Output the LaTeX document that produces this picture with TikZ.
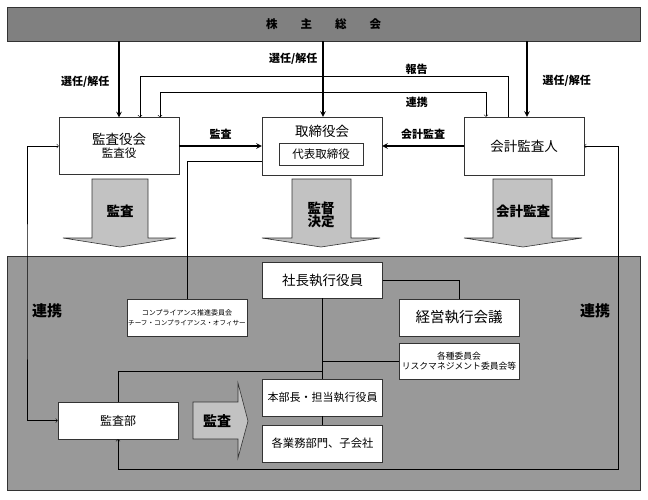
\documentclass[tikz,border=0pt]{standalone}
\usepackage{fontspec}
\setmainfont{Noto Sans CJK JP}
\usetikzlibrary{arrows}
\definecolor{bargray}{gray}{0.5}
\definecolor{panelgray}{gray}{0.6}
\definecolor{arrowgray}{gray}{0.76}
\definecolor{linegray}{gray}{0.2}
\newcommand{\fs}[1]{\fontsize{#1}{#1}\selectfont}
\tikzstyle{box} = [rectangle, minimum width=120pt, minimum height=37pt, text centered, align=center, draw=linegray, fill=white, inner sep=1pt]
\tikzstyle{bigbox} = [box, minimum height=58pt]
\tikzstyle{lbl} = [font=\fs{11}\bfseries, inner sep=1pt]
\tikzstyle{biglbl} = [font=\fs{13.5}\bfseries, align=center]
\tikzstyle{arrow} = [line width=1.4pt,->,>=stealth]
\tikzstyle{link} = [line width=0.6pt,->,>=to]
\tikzstyle{wire} = [line width=0.6pt]
\tikzstyle{fat} = [draw=linegray, line width=0.6pt, fill=arrowgray]

\begin{document}
\begin{tikzpicture}[x=1pt, y=-1pt]
		\useasboundingbox (0,0) rectangle (648,499);
		\node (soukai) [rectangle, draw=linegray, fill=bargray, minimum width=633pt, minimum height=34pt] at (323.5,24) {\fs{11.5}\bfseries 株\hspace{2em}主\hspace{2em}総\hspace{2em}会};
		\node (panel) [rectangle, draw=linegray, fill=panelgray, minimum width=633pt, minimum height=234pt] at (323.5,373) {};
		% upper boxes
		\node (kansayakukai) [bigbox, minimum height=57pt] at (119,146) {{\fs{13.5}監査役会}\\[1pt]{\fs{11.5}監査役}};
		\node (torishimari) [bigbox] at (322,146) {};
		\node (torishimaritxt) at ([yshift=-15pt]torishimari.north) {\fs{13.5}取締役会};
		\node (daihyo) [box, minimum width=84pt, minimum height=22pt] at (321,154) {\fs{11.5}代表取締役};
		\node (kaikei) [bigbox] at (524,146) {\fs{13.5}会計監査人};
		% lower boxes
		\node (shacho) [box, minimum height=36pt] at (322.5,280) {\fs{13.5}社長執行役員};
		\node (keiei) [box] at (459,317.5) {\fs{14.5}経営執行会議};
		\node (kakushu) [box, minimum height=36pt] at (459,361) {\fs{8.8}各種委員会\\[-2pt]\fs{8.8}リスクマネジメント委員会等};
		\node (compliance) [box, inner sep=0pt] at (187,317.5) {\fs{7}コンプライアンス推進委員会\\[-2pt]\fs{6.6}チーフ・コンプライアンス・オフィサー};
		\node (honbu) [box] at (322.5,397.5) {\fs{11}本部長・担当執行役員};
		\node (kakugyomu) [box, below of = honbu, yshift = -17.5pt] {\fs{11.3}各業務部門、子会社};
		\node (kansabu) [box] at (118,420.5) {\fs{12}監査部};
		\node (renkeileft) [biglbl, font=\fs{15}\bfseries] at (47,311) {連携};
		\node (renkeiright) [biglbl, font=\fs{15}\bfseries] at (595,311) {連携};
		% big arrows
		\draw [fat] (92,179) -- (148,179) -- (148,238) -- (176,238) -- (120,247) -- (63,238) -- (92,238) -- cycle;
		\node (kansa1) [biglbl] at (120,211) {監査};
		\draw [fat] (292,179) -- (351,179) -- (351,238) -- (380,238) -- (321,247) -- (262,238) -- (292,238) -- cycle;
		\node (kantoku) [biglbl] at (321,215) {監督\\決定};
		\draw [fat] (493,179) -- (552,179) -- (552,238) -- (582,238) -- (523,247) -- (464,238) -- (493,238) -- cycle;
		\node (kansa2) [biglbl] at (523,211) {会計監査};
		\draw [fat] (193,402) -- (238,402) -- (238,383) -- (248,421) -- (238,458) -- (238,439) -- (193,439) -- cycle;
		\node (kansa3) [biglbl, font=\fs{14}\bfseries] at (217,421) {監査};
		% shareholders
		\draw [arrow] (soukai.south -| kansayakukai.north) -- node[lbl, left=8pt, pos=0.53] {選任/解任} (kansayakukai.north);
		\draw [arrow] (soukai.south -| 323,0) -- node[lbl, left=4pt, pos=0.23] {選任/解任} (torishimari.north -| 323,0);
		\draw [arrow] (soukai.south -| 527,0) -- node[lbl, right=14pt, pos=0.53] {選任/解任} (kaikei.north -| 527,0);
		\draw [link] ([xshift=-16pt]kaikei.north) -- ++(0,-41) -| node[lbl, above, pos=0.124] {報告} ([xshift=21pt]kansayakukai.north);
		\draw [link, <->] ([xshift=41pt]kansayakukai.north) -- ++(0,-25) -| node[lbl, below=3pt, pos=0.394] {連携} ([xshift=-38pt]kaikei.north);
		\draw [arrow] (kansayakukai.east) -- node[lbl, above=5pt] {監査} (torishimari.west);
		\draw [arrow] (kaikei.west) -- node[lbl, above=5pt] {会計監査} (torishimari.east);
		% cooperation
		\draw [link, <->] (kansayakukai.west) -| (27,300) |- (kansabu.west);
		\draw [link, <->] (kaikei.east) -| (618,469) -| (kansabu.south);
		% organisation
		\draw [wire] ([yshift=-15pt]torishimari.west) -| (compliance.north);
		\draw [wire] (shacho.east) -| (keiei.north);
		\draw [wire] (shacho.south) -- (honbu.north);
		\draw [wire] (kakushu.west) -- (kakushu.west -| shacho.south);
		\draw [wire] (kansabu.north) |- (shacho.south |- 0,371);
		\draw [wire] (honbu.south) -- (kakugyomu.north);
	\end{tikzpicture}
\end{document}
